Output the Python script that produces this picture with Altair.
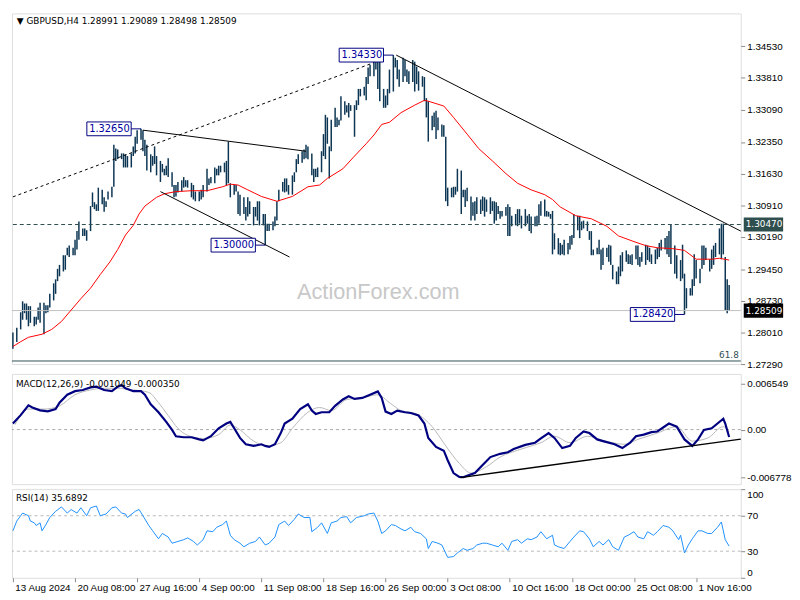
import altair as alt
import pandas as pd

FONT = "DejaVu Sans"
W = 740
H_MAIN, H_MACD, H_RSI = 356, 112, 90

# ---------------- price bars (H4) ----------------
bar_idx = [0,2,4,5,6,7,8,9,11,12, 13,14,16,17,18,19,21,22,23,24, 26,27,28,29,31,32,33,34,36,37,
           38,40,41,42,43,44,46,47,48,49, 51,52,53,54,56,57,58,59,61,62, 63,64,66,67,68,69,71,72,73,74,
           76,77,78,79,80,82,83,84,85,87, 88,89,90,92,93,94,96,97,98,100, 101,102,104,105,106,107,109,110,111,112,
           114,115,116,117,119,120,121,122,124,125, 126,127,129,130,131,132,134,135,136,137,
           139,140,141,142,144,145,146,147,149,150, 151,152,154,155,156,157,159,160,161,162,
           163,164,166,167,168,169,171,172,173,174, 176,177,178,179,181,182,183,184,186,187,
           188,189,191,192,193,194,196,197,198,199, 201,202,203,204,206,207,208,209,211,212,
           213,214,216,217,218,219,221,222,223,224, 226,227,228,229,231,232,233,234,236,237,
           238,239,241,242,243,244,246,247,248,249, 250,251,252,254,255,256,257,259,260,261,
           262,264,265,266,267,269,270,271,272,274, 275,276,277,278,279,281,282,283,284,286,
           287,288,289,291,292,293,294,296,297,298, 299,301,302,303,304,306,307,308,309,311,
           312,313,314,316,317,318,319,321,322,323, 324,326,327,328,329,331,332,333,334,336,
           337,338,339,341,342,344,345,346,347,349, 350,351,352,354,355,356,357,359,360,361,
           362,364,365,366,367,368,369]
bar_high = [1.2801,1.2812,1.2847,1.2872,1.2867,1.2867,1.2861,1.2861,1.2837,1.2837,
            1.2858,1.2869,1.2869,1.2863,1.2863,1.2889,1.2913,1.2922,1.2946,1.2955,
            1.2977,1.2977,1.2994,1.2999,1.2994,1.3012,1.3032,1.3054,1.3038,1.3038,
            1.3034,1.3089,1.3120,1.3098,1.3093,1.3131,1.3126,1.3109,1.3100,1.3122,
            1.3133,1.3229,1.3220,1.3218,1.3209,1.3209,1.3207,1.3203,1.3209,1.3225,
            1.3247,1.3262,1.3265,1.3262,1.3240,1.3229,1.3207,1.3203,1.3225,1.3203,
            1.3192,1.3185,1.3174,1.3181,1.3198,1.3166,1.3137,1.3137,1.3144,1.3148,
            1.3155,1.3148,1.3148,1.3142,1.3137,1.3122,1.3122,1.3126,1.3137,1.3174,
            1.3152,1.3155,1.3177,1.3174,1.3181,1.3181,1.3188,1.3192,1.3236,1.3141,
            1.3137,1.3137,1.3122,1.3115,1.3109,1.3087,1.3109,1.3100,1.3087,1.3087,
            1.3100,1.3100,1.3071,1.3071,1.3049,1.3049,1.3054,1.3065,1.3100,1.3126,
            1.3144,1.3152,1.3152,1.3137,1.3159,1.3166,1.3196,1.3207,1.3214,1.3218,
            1.3229,1.3225,1.3209,1.3174,1.3174,1.3177,1.3214,1.3253,1.3297,1.3291,
            1.3225,1.3286,1.3313,1.3291,1.3286,1.3339,1.3328,1.3319,1.3324,1.3319,
            1.3319,1.3330,1.3356,1.3356,1.3361,1.3383,1.3405,1.3411,1.3427,1.3429,
            1.3422,1.3427,1.3356,1.3341,1.3356,1.3400,1.3433,1.3427,1.3422,1.3400,
            1.3427,1.3422,1.3400,1.3396,1.3422,1.3418,1.3407,1.3396,1.3385,1.3383,
            1.3335,1.3328,1.3295,1.3302,1.3306,1.3291,1.3275,1.3273,1.3247,1.3131,
            1.3131,1.3133,1.3133,1.3174,1.3170,1.3126,1.3126,1.3131,1.3111,1.3098,
            1.3100,1.3109,1.3104,1.3111,1.3109,1.3104,1.3109,1.3100,1.3100,1.3098,
            1.3089,1.3078,1.3078,1.3087,1.3093,1.3087,1.3067,1.3071,1.3082,1.3082,
            1.3067,1.3082,1.3067,1.3071,1.3065,1.3065,1.3067,1.3093,1.3100,1.3104,
            1.3078,1.3076,1.3071,1.3078,1.3027,1.3016,1.3005,1.3001,1.3012,1.3005,
            1.3021,1.3023,1.3071,1.3067,1.3067,1.3054,1.3056,1.3054,1.3032,1.3032,
            1.2990,1.2994,1.3012,1.2990,1.2994,1.2994,1.3001,1.2999,1.2955,1.2940,
            1.2951,1.2977,1.2984,1.2988,1.2979,1.2977,1.2979,1.2999,1.2999,1.2973,
            1.2984,1.3001,1.2999,1.2994,1.2979,1.2990,1.2994,1.3005,1.3012,1.3016,
            1.3021,1.3032,1.3047,1.2999,1.2977,1.2966,1.3001,1.2935,1.2902,1.2902,
            1.2922,1.2979,1.2966,1.2946,1.2999,1.2999,1.2994,1.2968,1.2990,1.2999,
            1.3005,1.3038,1.3049,1.3049,1.2973,1.2922,1.2909]
bar_low = [1.2764,1.2779,1.2808,1.2830,1.2845,1.2830,1.2815,1.2823,1.2815,1.2819,
           1.2830,1.2823,1.2797,1.2845,1.2847,1.2858,1.2874,1.2889,1.2918,1.2929,
           1.2940,1.2944,1.2977,1.2973,1.2977,1.2977,1.2990,1.3012,1.3021,1.3021,
           1.3010,1.3032,1.3087,1.3082,1.3078,1.3078,1.3093,1.3076,1.3087,1.3104,
           1.3109,1.3133,1.3192,1.3196,1.3196,1.3177,1.3177,1.3177,1.3177,1.3203,
           1.3209,1.3231,1.3240,1.3214,1.3203,1.3170,1.3166,1.3181,1.3185,1.3159,
           1.3144,1.3166,1.3159,1.3159,1.3155,1.3133,1.3109,1.3111,1.3120,1.3122,
           1.3131,1.3133,1.3131,1.3109,1.3104,1.3100,1.3100,1.3104,1.3109,1.3122,
           1.3137,1.3141,1.3141,1.3159,1.3159,1.3166,1.3166,1.3137,1.3141,1.3109,
           1.3115,1.3122,1.3071,1.3067,1.3071,1.3056,1.3065,1.3071,1.3045,1.3065,
           1.3056,1.3045,1.3045,1.3000,1.3032,1.3032,1.3034,1.3043,1.3056,1.3100,
           1.3122,1.3120,1.3122,1.3115,1.3115,1.3144,1.3166,1.3185,1.3188,1.3196,
           1.3198,1.3196,1.3159,1.3144,1.3155,1.3155,1.3166,1.3203,1.3196,1.3231,
           1.3152,1.3214,1.3269,1.3269,1.3273,1.3284,1.3297,1.3302,1.3291,1.3306,
           1.3247,1.3308,1.3319,1.3339,1.3341,1.3330,1.3367,1.3385,1.3385,1.3400,
           1.3356,1.3328,1.3313,1.3313,1.3319,1.3346,1.3350,1.3405,1.3378,1.3361,
           1.3372,1.3385,1.3372,1.3367,1.3372,1.3350,1.3367,1.3352,1.3361,1.3328,
           1.3291,1.3236,1.3262,1.3269,1.3242,1.3262,1.3247,1.3247,1.3100,1.3089,
           1.3109,1.3109,1.3115,1.3122,1.3071,1.3109,1.3087,1.3100,1.3056,1.3067,
           1.3056,1.3071,1.3071,1.3078,1.3065,1.3076,1.3071,1.3078,1.3049,1.3056,
           1.3071,1.3060,1.3065,1.3067,1.3021,1.3021,1.3043,1.3045,1.3043,1.3049,
           1.3038,1.3043,1.3049,1.3032,1.3027,1.3043,1.3043,1.3049,1.3067,1.3065,
           1.3065,1.3065,1.3060,1.2979,1.2990,1.2979,1.2977,1.2979,1.2977,1.2979,
           1.2990,1.3001,1.3016,1.3034,1.3016,1.3034,1.3038,1.3032,1.3012,1.2977,
           1.2977,1.2979,1.2979,1.2944,1.2955,1.2973,1.2962,1.2955,1.2922,1.2911,
           1.2911,1.2929,1.2940,1.2962,1.2957,1.2957,1.2955,1.2968,1.2955,1.2951,
           1.2962,1.2955,1.2966,1.2962,1.2957,1.2957,1.2968,1.2973,1.2988,1.2990,
           1.2979,1.2973,1.2957,1.2935,1.2924,1.2918,1.2924,1.2842,1.2856,1.2885,
           1.2885,1.2907,1.2924,1.2913,1.2946,1.2955,1.2966,1.2940,1.2946,1.2955,
           1.2973,1.2979,1.2968,1.2979,1.2852,1.2845,1.2850]

# ---------------- moving average (red) ----------------
ma_idx = [0,4,8,15,20,25,30,35,40,45, 50,54,58,62,65,68,74,78,84,92, 100,108,112,116,121,128,136,144,152,158,
          162,170,176,182,186,190,194,200,207,212, 214,222,227,234,240,247,254,260,267,274,
          278,282,290,298,306,312,320,326,332,340, 346,352,360,364,369]
ma_val = [1.2769,1.2780,1.2790,1.2797,1.2808,1.2826,1.2852,1.2878,1.2902,1.2933,
          1.2962,1.2990,1.3023,1.3045,1.3071,1.3089,1.3109,1.3117,1.3122,1.3124,
          1.3124,1.3133,1.3139,1.3137,1.3126,1.3111,1.3100,1.3111,1.3133,1.3137,
          1.3152,1.3174,1.3203,1.3231,1.3251,1.3275,1.3280,1.3302,1.3319,1.3330,
          1.3328,1.3317,1.3291,1.3253,1.3220,1.3192,1.3163,1.3141,1.3126,1.3115,
          1.3104,1.3087,1.3067,1.3060,1.3043,1.3021,1.3008,1.2999,1.2994,1.2992,
          1.2988,1.2968,1.2968,1.2970,1.2966]

# ---------------- trend lines (main panel) ----------------
chan_bar, chan_price = [0, 186], [1.3110, 1.3416]          # dotted channel line
tri_top_bar, tri_top_price = [67, 151], [1.3262, 1.3214]
tri_bot_bar, tri_bot_price = [76, 142.5], [1.3122, 1.2973]
down_bar, down_price = [197.5, 375], [1.3433, 1.3032]

level_dashed = 1.3047
level_bid = 1.28509
level_fib = 1.2736

label_text = ["1.32650", "1.34330", "1.30000", "1.28420"]
label_bar = [66, 196, 130, 346]
label_price = [1.3265, 1.3433, 1.3000, 1.2842]

price_ticks = [1.3453, 1.3381, 1.3309, 1.3235, 1.3163, 1.3091, 1.3019, 1.2945, 1.2873, 1.2801, 1.2729]
hl_price = [1.3047, 1.28509]
hl_text = ["1.30470", "1.28509"]
hl_bg = ["#2f4f4f", "#000000"]

# ---------------- MACD ----------------
macd_idx = [0,4,8,10,14,18,22,24,28,32, 36,40,43,47,51,54,56,58,62,66, 68,71,75,79,82,84,88,92,96,98,
            102,106,110,112,114,117,120,124,128,130, 132,135,138,140,144,148,152,154,156,159,
            163,166,170,173,176,180,184,188,190,192, 195,198,202,205,209,212,214,218,222,224,
            227,230,232,234,238,242,246,251,255,258, 264,269,272,276,279,283,287,290,294,297,
            301,304,310,314,318,321,325,329,332,338, 342,346,350,353,356,360,366,367,369]
macd_val = [0.00086,0.00205,0.00345,0.00314,0.00273,0.00259,0.00291,0.00382,0.00495,0.00546,
            0.00563,0.00600,0.00610,0.00563,0.00546,0.00610,0.00632,0.00587,0.00546,0.00546,
            0.00495,0.00359,0.00246,0.00109,-0.00004,-0.00095,-0.00109,-0.00109,-0.00140,-0.00154,
            -0.00095,0.00018,0.00086,0.00109,0.00018,-0.00119,-0.00209,-0.00232,-0.00209,-0.00232,
            -0.00246,-0.00209,-0.00050,0.00086,0.00154,0.00291,0.00359,0.00269,0.00222,0.00246,
            0.00246,0.00337,0.00427,0.00473,0.00436,0.00450,0.00495,0.00542,0.00450,0.00255,
            0.00222,0.00269,0.00246,0.00236,0.00200,0.00086,-0.00119,-0.00246,-0.00300,-0.00436,
            -0.00618,-0.00672,-0.00678,-0.00655,-0.00618,-0.00505,-0.00391,-0.00345,-0.00323,-0.00277,
            -0.00218,-0.00187,-0.00127,-0.00050,-0.00119,-0.00263,-0.00232,-0.00119,-0.00027,-0.00050,
            -0.00140,-0.00164,-0.00209,-0.00263,-0.00187,-0.00095,-0.00072,-0.00037,-0.00027,0.00086,
            0.00041,-0.00140,-0.00232,-0.00140,-0.00004,0.00018,0.00154,0.00086,-0.00105]
sig_idx = [1,8,16,24,32,40,47,54,62,70, 75,80,85,90,98,106,112,117,124,131,
           138,144,152,158,164,172,180,188,194,200, 208,216,223,230,236,244,251,262,272,279,
           287,296,304,315,322,332,342,350,358,366, 369]
sig_val = [0.00068,0.00291,0.00291,0.00337,0.00495,0.00563,0.00587,0.00587,0.00563,0.00528,
           0.00382,0.00200,0.00018,-0.00082,-0.00127,-0.00072,0.00064,-0.00004,-0.00164,-0.00232,
           -0.00187,0.00018,0.00246,0.00314,0.00269,0.00427,0.00450,0.00495,0.00382,0.00269,
           0.00222,0.00041,-0.00232,-0.00481,-0.00618,-0.00528,-0.00391,-0.00277,-0.00187,-0.00095,
           -0.00187,-0.00095,-0.00154,-0.00209,-0.00140,-0.00050,0.00041,-0.00164,-0.00119,0.00041,
           -0.00035]
macd_tl_bar, macd_tl_val = [230.5, 375], [-0.00682, -0.00136]
macd_ticks = [0.006549, 0.0, -0.006778]

# ---------------- RSI ----------------
rsi_idx = [0,2,5,8,9,11,12,14,15,17, 19,22,25,28,30,33,35,38,40,43, 45,48,51,53,56,58,59,63,65,67,
           70,72,75,77,80,82,85,88,90,93, 95,98,100,103,105,108,110,112,114,117,
           119,122,125,127,130,132,135,137,140,142, 145,147,150,153,154,157,159,162,164,167,
           169,172,174,177,181,183,186,188,190,192, 195,197,200,202,205,207,210,213,214,216,
           219,221,224,227,229,232,234,237,239,242, 244,247,250,252,255,257,260,262,265,267,
           270,272,275,278,279,281,284,287,289,292, 294,297,299,302,304,307,309,312,315,317,
           320,322,325,327,330,332,335,338,340,343, 344,346,348,350,353,355,358,360,363,365,
           367,369]
rsi_val = [53,64,73,70,64,62,59,62,53,60, 68,75,80,73,77,73,79,70,79,81, 70,72,79,80,73,72,68,75,77,70,
           59,53,44,50,46,39,41,43,45,41, 37,43,53,52,57,60,64,48,43,39, 35,39,41,46,37,39,46,60,64,59,
           66,72,68,68,52,57,62,50,62,64, 68,69,62,68,70,72,73,64,50,53, 60,59,55,53,57,52,50,44,33,41,
           39,37,23,24,28,33,31,33,37,39, 39,37,35,39,31,41,43,39,44,43, 46,52,44,48,37,35,33,41,46,53,
           52,44,35,41,37,43,35,31,46,48, 52,46,44,52,48,52,59,57,53,43, 48,28,37,44,53,53,50,50,57,63,
           43,35.7]
rsi_levels = [70, 30]
rsi_ticks = [0, 30, 70, 100]

date_ticks = [0, 32, 64, 96, 128, 160, 192, 224, 256, 288, 320, 352]
date_labels = ["13 Aug 2024", "20 Aug 08:00", "27 Aug 16:00", "4 Sep 00:00", "11 Sep 08:00",
               "18 Sep 16:00", "26 Sep 00:00", "3 Oct 08:00", "10 Oct 16:00", "18 Oct 00:00",
               "25 Oct 08:00", "1 Nov 16:00"]

# ---------------- scales & axes ----------------
xs = alt.Scale(domain=[-0.5, 375], nice=False, zero=False)
ys_main = alt.Scale(domain=[1.2729, 1.3528], nice=False, zero=False)
ys_macd = alt.Scale(domain=[-0.00777, 0.00791], nice=False, zero=False)
ys_rsi = alt.Scale(domain=[0, 100], nice=False, zero=False)

price_axis = alt.Axis(orient="right", values=price_ticks, format=".5f", title=None,
                      tickSize=4, labelPadding=2, grid=False, domain=False)
macd_axis = alt.Axis(orient="right", values=macd_ticks, title=None, tickSize=4, labelPadding=2,
                     grid=False, domain=False,
                     labelExpr="datum.value > 0.001 ? '0.006549' : (datum.value < -0.001 ? '-0.006778' : '0.00')")
rsi_axis = alt.Axis(orient="right", values=rsi_ticks, title=None, tickSize=4, labelPadding=2,
                    grid=False, domain=False, labelFlush=True, format="d")
label_expr = " : ".join(f"datum.value == {t} ? '{l}'" for t, l in zip(date_ticks, date_labels)) + " : ''"
date_axis = alt.Axis(values=date_ticks, labelExpr=label_expr, title=None, labelAlign="left",
                     labelOffset=2, labelFlush=False, labelOverlap=False, tickSize=4,
                     labelPadding=1, grid=False, domain=False)

XN = alt.X("bar:Q", scale=xs, axis=None)
def YM(f):
    return alt.Y(f, scale=ys_main, axis=price_axis)
def YD(f):
    return alt.Y(f, scale=ys_macd, axis=macd_axis)
def YR(f):
    return alt.Y(f, scale=ys_rsi, axis=rsi_axis)

BAR_COLOR = "#0b3552"
NAVY = "#000080"

# ---------------- main panel ----------------
bars_df = pd.DataFrame({"bar": bar_idx, "high": bar_high, "low": bar_low})
ma_df = pd.DataFrame({"bar": ma_idx, "price": ma_val})
dotted_df = pd.DataFrame({"bar": chan_bar, "price": chan_price, "line": "chan"})
solid_df = pd.concat([
    pd.DataFrame({"bar": tri_top_bar, "price": tri_top_price, "line": "tri_top"}),
    pd.DataFrame({"bar": tri_bot_bar, "price": tri_bot_price, "line": "tri_bot"}),
    pd.DataFrame({"bar": down_bar, "price": down_price, "line": "down"}),
])
labels_df = pd.DataFrame({"bar": label_bar, "price": label_price, "text": label_text})
hl_df = pd.DataFrame({"price": hl_price, "text": hl_text, "bg": hl_bg})

bars = alt.Chart(bars_df).mark_rule(color=BAR_COLOR, strokeWidth=1.5).encode(
    x=XN, y=YM("low:Q"), y2="high:Q")
ma = alt.Chart(ma_df).mark_line(color="#ff0000", strokeWidth=1).encode(x=XN, y=YM("price:Q"))

lvl_dash = alt.Chart(pd.DataFrame({"price": [level_dashed]})).mark_rule(
    color="#2f4f4f", strokeDash=[4, 3], strokeWidth=1).encode(y=YM("price:Q"))
lvl_bid = alt.Chart(pd.DataFrame({"price": [level_bid]})).mark_rule(
    color="#c0c0c0", strokeWidth=1).encode(y=YM("price:Q"))
fib_src = alt.Chart(pd.DataFrame({"price": [level_fib], "text": ["61.8"]}))
fib_line = fib_src.mark_rule(color="#2f4f4f", strokeWidth=1).encode(y=YM("price:Q"))
fib_text = fib_src.mark_text(align="right", baseline="bottom", dy=-1, fontSize=9, font=FONT,
                             color="#2f4f4f").encode(x=alt.value(W - 2), y=YM("price:Q"), text="text:N")

dotted = alt.Chart(dotted_df).mark_line(color="black", strokeWidth=1, strokeDash=[3, 3]).encode(
    x=XN, y=YM("price:Q"), detail="line:N")
solid = alt.Chart(solid_df).mark_line(color="black", strokeWidth=1).encode(
    x=XN, y=YM("price:Q"), detail="line:N")

BOX_PATH = "M-5.5,-0.7L-1,-0.7L-1,0.7L-5.5,0.7Z M-1,0L0,0"
label_boxes = alt.Chart(labels_df).mark_point(shape=BOX_PATH, size=400, filled=True, fill="white",
                                              stroke=NAVY, strokeWidth=1, opacity=1).encode(
    x=XN, y=YM("price:Q"))
label_texts = alt.Chart(labels_df).mark_text(dx=-32, align="center", baseline="middle",
                                             fontSize=10, font=FONT, color="#0000a0").encode(
    x=XN, y=YM("price:Q"), text="text:N")

hl_boxes = alt.Chart(hl_df).mark_point(shape="M-1,-0.36L1,-0.36L1,0.36L-1,0.36Z", size=1600,
                                       filled=True, opacity=1).encode(
    x=alt.value(W + 23), y=YM("price:Q"), color=alt.Color("bg:N", scale=None))
hl_texts = alt.Chart(hl_df).mark_text(align="left", baseline="middle", fontSize=9, font=FONT,
                                      color="white").encode(
    x=alt.value(W + 5), y=YM("price:Q"), text="text:N")

title_txt = alt.Chart(pd.DataFrame({"t": ["\u25BC GBPUSD,H4  1.28991 1.29089 1.28498 1.28509"]})).mark_text(
    align="left", baseline="middle", fontSize=9, font=FONT, color="black").encode(
    x=alt.value(5), y=alt.value(8), text="t:N")
watermark = alt.Chart(pd.DataFrame({"t": ["ActionForex.com"]})).mark_text(
    align="center", baseline="middle", fontSize=22, font="Liberation Sans", color="#c8c8c8").encode(
    x=alt.value(372), y=alt.value(283), text="t:N")

main = alt.layer(bars, lvl_bid, fib_line, fib_text, lvl_dash, ma, dotted, solid,
                 label_boxes, label_texts, hl_boxes, hl_texts, watermark, title_txt
                 ).properties(width=W, height=H_MAIN)

# ---------------- MACD panel ----------------
macd_df = pd.DataFrame({"bar": macd_idx, "v": macd_val})
sig_df = pd.DataFrame({"bar": sig_idx, "v": sig_val})
mtl_df = pd.DataFrame({"bar": macd_tl_bar, "v": macd_tl_val})

zero = alt.Chart(pd.DataFrame({"v": [0.0]})).mark_rule(color="#a8a8a8", strokeDash=[3, 3]).encode(
    y=YD("v:Q"))
sig_line = alt.Chart(sig_df).mark_line(color="#b8b8b8", strokeWidth=1, interpolate="monotone").encode(
    x=XN, y=YD("v:Q"))
macd_line = alt.Chart(macd_df).mark_line(color=NAVY, strokeWidth=2.2).encode(x=XN, y=YD("v:Q"))
macd_tl = alt.Chart(mtl_df).mark_line(color="black", strokeWidth=1.3).encode(x=XN, y=YD("v:Q"))
macd_txt = alt.Chart(pd.DataFrame({"t": ["MACD(12,26,9) -0.001049 -0.000350"]})).mark_text(
    align="left", baseline="middle", fontSize=9, font=FONT, color="black").encode(
    x=alt.value(4), y=alt.value(10), text="t:N")
macd = alt.layer(zero, sig_line, macd_line, macd_tl, macd_txt).properties(width=W, height=H_MACD)

# ---------------- RSI panel ----------------
rsi_df = pd.DataFrame({"bar": rsi_idx, "v": rsi_val})
lvl_df = pd.DataFrame({"v": rsi_levels})

rsi_lv = alt.Chart(lvl_df).mark_rule(color="#b8b8b8", strokeDash=[3, 3]).encode(y=YR("v:Q"))
rsi_line = alt.Chart(rsi_df).mark_line(color="#1e90ff", strokeWidth=1).encode(
    x=alt.X("bar:Q", scale=xs, axis=date_axis), y=YR("v:Q"))
rsi_txt = alt.Chart(pd.DataFrame({"t": ["RSI(14) 35.6892"]})).mark_text(
    align="left", baseline="middle", fontSize=9, font=FONT, color="black").encode(
    x=alt.value(4), y=alt.value(9), text="t:N")
rsi = alt.layer(rsi_lv, rsi_line, rsi_txt).properties(width=W, height=H_RSI)

chart = alt.vconcat(main, macd, rsi, spacing=3).properties(
    padding={"left": 0, "top": 0, "right": 0, "bottom": 0}
).configure_view(
    stroke="black", strokeWidth=1
).configure_axis(
    labelFont=FONT, labelFontSize=9, labelColor="black", tickColor="black"
).configure(background="white")

chart.save("out.html", embed_options={"renderer": "svg", "actions": False})
